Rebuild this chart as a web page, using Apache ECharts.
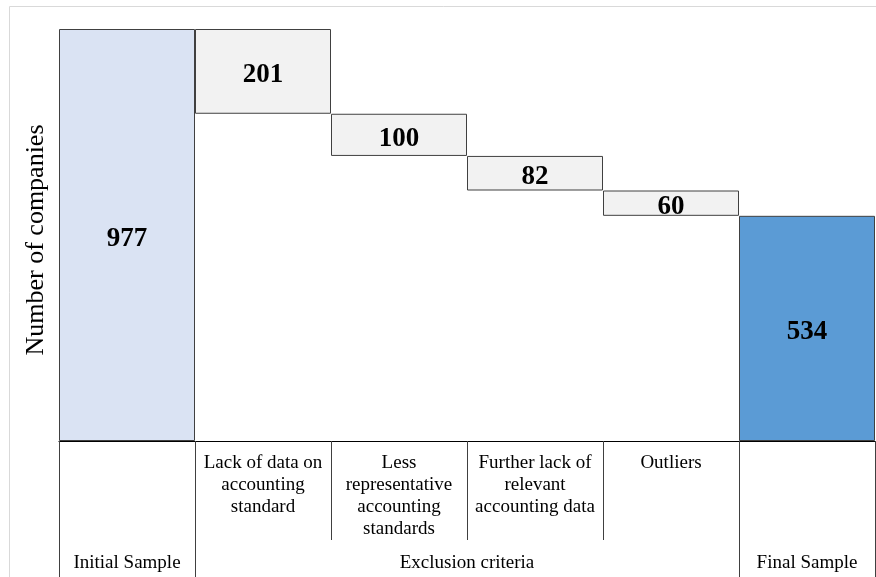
<!DOCTYPE html>
<html>
<head>
<meta charset="utf-8">
<script src="https://cdn.jsdelivr.net/npm/echarts@6/dist/echarts.min.js"></script>
<style>html,body{margin:0;padding:0;background:#fff;}#chart{width:876px;height:577px;}</style>
</head>
<body>
<div id="chart"></div>
<script>
const categories = ['Initial Sample', 'Lack of data on\naccounting\nstandard', 'Less\nrepresentative\naccounting\nstandards', 'Further lack of\nrelevant\naccounting data', 'Outliers', 'Final Sample'];
const initialSample = 977;
const exclusions = [201, 100, 82, 60];
const finalSample = 534;
const groupLabels = ['Initial Sample', 'Exclusion criteria', 'Final Sample'];
const groupPositions = [0.5, 3, 5.5];
const groupBoundaries = [0, 1, 5, 6];
const yAxisTitle = 'Number of companies';

const colInitial = '#dae3f3', colExcl = '#f2f2f2', colFinal = '#5b9bd5';
const font = 'Liberation Serif';

// build waterfall stacks
const base = [0];
const visible = [{ value: initialSample, itemStyle: { color: colInitial } }];
let running = initialSample;
exclusions.forEach(v => {
  running -= v;
  base.push(running);
  visible.push({ value: v, itemStyle: { color: colExcl } });
});
base.push(0);
visible.push({ value: finalSample, itemStyle: { color: colFinal } });

const chart = echarts.init(document.getElementById('chart'));
chart.setOption({
  animation: false,
  graphic: [{
    type: 'rect', z: -10,
    shape: { x: 9.5, y: 6.5, width: 900, height: 620 },
    style: { fill: 'none', stroke: '#d9d9d9', lineWidth: 1 }
  }],
  grid: { left: 59, right: 1, top: 29, bottom: 136 },
  xAxis: [{
    type: 'category', data: categories, position: 'bottom',
    axisLine: { show: true, lineStyle: { color: '#000', width: 1.2 } },
    axisTick: { show: true, interval: 0, length: 99, lineStyle: { color: '#404040' } },
    axisLabel: {
      interval: 0, margin: 11, color: '#000', fontFamily: font, fontSize: 19, lineHeight: 22,
      verticalAlign: 'top',
      formatter: (v, i) => (i === 0 || i === categories.length - 1) ? '' : v
    },
    splitLine: { show: false }
  }, {
    type: 'value', min: 0, max: 6, position: 'bottom', offset: 0,
    axisLine: { show: false },
    splitLine: { show: false },
    axisTick: { show: true, customValues: groupBoundaries, length: 136, lineStyle: { color: '#404040' } },
    axisLabel: {
      customValues: groupPositions, margin: 111, color: '#000', fontFamily: font, fontSize: 19, lineHeight: 22,
      verticalAlign: 'top',
      formatter: v => {
        const k = groupPositions.indexOf(v);
        return k >= 0 ? groupLabels[k] : '';
      }
    }
  }],
  yAxis: {
    type: 'value', min: 0, max: initialSample,
    axisLine: { show: false }, axisTick: { show: false }, axisLabel: { show: false },
    splitLine: { show: false },
    name: yAxisTitle, nameLocation: 'middle', nameGap: 10,
    nameTextStyle: { fontFamily: font, fontSize: 26, color: '#000', padding: [0, 0, 0, -10] }
  },
  series: [{
    type: 'bar', stack: 'w', data: base, barCategoryGap: 0, silent: true,
    itemStyle: { color: 'rgba(0,0,0,0)' }
  }, {
    type: 'bar', stack: 'w', data: visible, barCategoryGap: 0,
    itemStyle: { borderColor: '#404040', borderWidth: 1 },
    label: {
      show: true, position: 'inside', offset: [0, 4], color: '#000', fontFamily: font, fontSize: 27, fontWeight: 'bold'
    }
  }]
});
</script>
</body>
</html>
